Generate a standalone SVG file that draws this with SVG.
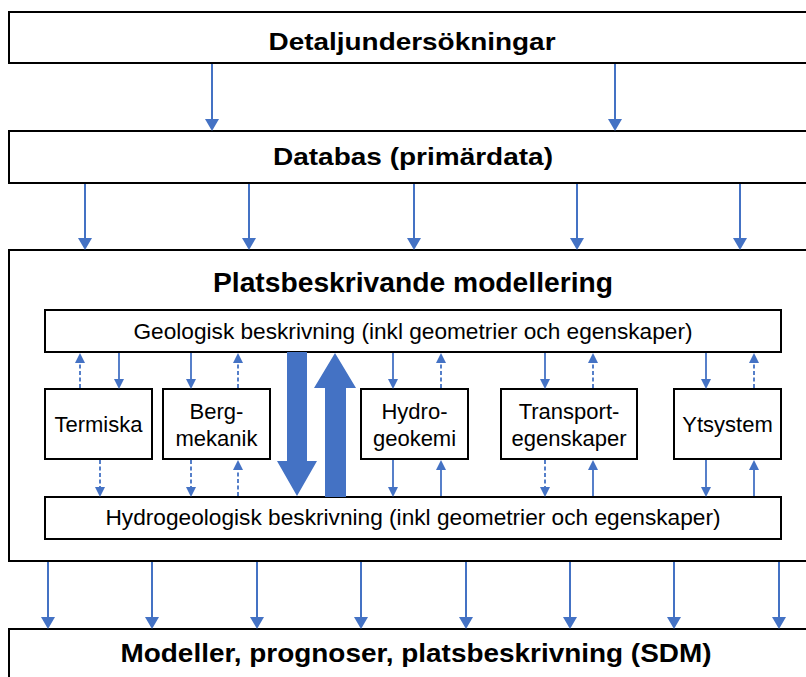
<svg xmlns="http://www.w3.org/2000/svg" width="806" height="677" viewBox="0 0 806 677">
<style>
.box{fill:#fff;stroke:#000;stroke-width:2}
.hd{font-family:"Liberation Sans",Arial,sans-serif;font-weight:bold;fill:#000;text-anchor:middle}
.tx{font-family:"Liberation Sans",Arial,sans-serif;font-size:22px;fill:#000;text-anchor:middle}
.ar{stroke:#4472C4;stroke-width:2;fill:none}
.ai{stroke:#4472C4;stroke-width:1.8;fill:none}
.ds{stroke-dasharray:4 2.5}
.big{fill:#4472C4}
</style>
<defs>
<marker id="mo" viewBox="0 0 12 14" refX="6" refY="7" markerWidth="12" markerHeight="14" markerUnits="userSpaceOnUse" orient="auto"><path d="M0,0 L12,7 L0,14 z" fill="#4472C4"/></marker>
<marker id="mi" viewBox="0 0 10 10" refX="5" refY="5" markerWidth="10" markerHeight="10" markerUnits="userSpaceOnUse" orient="auto"><path d="M0,0 L10,5 L0,10 z" fill="#4472C4"/></marker>
</defs>
<rect width="806" height="677" fill="#fff"/>

<g id="detaljundersokningar">
<rect class="box" x="9" y="12" width="810" height="51"/>
<text class="hd" x="412" y="50" font-size="24" textLength="287" lengthAdjust="spacingAndGlyphs">Detaljundersökningar</text>
</g>
<g id="databas">
<rect class="box" x="9" y="131" width="810" height="52"/>
<text class="hd" x="413" y="165" font-size="24" textLength="280" lengthAdjust="spacingAndGlyphs">Databas (primärdata)</text>
</g>
<g id="platsbeskrivande">
<rect class="box" x="9" y="250" width="810" height="311"/>
<text class="hd" x="413" y="292" font-size="27" textLength="400" lengthAdjust="spacingAndGlyphs">Platsbeskrivande modellering</text>
</g>
<g id="geologisk">
<rect class="box" x="45" y="310" width="736" height="42"/>
<text class="tx" x="413" y="339" textLength="559" lengthAdjust="spacingAndGlyphs">Geologisk beskrivning (inkl geometrier och egenskaper)</text>
</g>
<g id="termiska">
<rect class="box" x="45" y="389" width="107" height="70"/>
<text class="tx" x="98.5" y="432">Termiska</text>
</g>
<g id="bergmekanik">
<rect class="box" x="163" y="389" width="107" height="70"/>
<text class="tx" x="216.5" y="419">Berg-</text>
<text class="tx" x="216.5" y="446">mekanik</text>
</g>
<g id="hydrogeokemi">
<rect class="box" x="361" y="389" width="107" height="70"/>
<text class="tx" x="414.5" y="419">Hydro-</text>
<text class="tx" x="414.5" y="446">geokemi</text>
</g>
<g id="transportegenskaper">
<rect class="box" x="501" y="389" width="136" height="70"/>
<text class="tx" x="569" y="419">Transport-</text>
<text class="tx" x="569" y="446">egenskaper</text>
</g>
<g id="ytsystem">
<rect class="box" x="674" y="389" width="107" height="70"/>
<text class="tx" x="727.5" y="432">Ytsystem</text>
</g>
<g id="hydrogeologisk">
<rect class="box" x="45" y="497" width="736" height="42"/>
<text class="tx" x="413" y="525" textLength="615" lengthAdjust="spacingAndGlyphs">Hydrogeologisk beskrivning (inkl geometrier och egenskaper)</text>
</g>
<g id="modeller">
<rect class="box" x="9" y="629" width="810" height="60"/>
<text class="hd" x="416" y="662" font-size="26.5" textLength="591" lengthAdjust="spacingAndGlyphs">Modeller, prognoser, platsbeskrivning (SDM)</text>
</g>

<g id="connectors">
<g class="ar" marker-end="url(#mo)">
<line x1="212" y1="64" x2="212" y2="125"/>
<line x1="615" y1="64" x2="615" y2="125"/>
<line x1="85" y1="184" x2="85" y2="244"/>
<line x1="249" y1="184" x2="249" y2="244"/>
<line x1="414" y1="184" x2="414" y2="244"/>
<line x1="577" y1="184" x2="577" y2="244"/>
<line x1="740" y1="184" x2="740" y2="244"/>
<line x1="48" y1="562" x2="48" y2="623"/>
<line x1="152" y1="562" x2="152" y2="623"/>
<line x1="257" y1="562" x2="257" y2="623"/>
<line x1="361" y1="562" x2="361" y2="623"/>
<line x1="466" y1="562" x2="466" y2="623"/>
<line x1="570" y1="562" x2="570" y2="623"/>
<line x1="674" y1="562" x2="674" y2="623"/>
<line x1="779" y1="562" x2="779" y2="623"/>
</g>
<g class="ai" marker-end="url(#mi)">
<line x1="119" y1="353" x2="119" y2="384"/>
<line x1="191" y1="353" x2="191" y2="384"/>
<line x1="393" y1="353" x2="393" y2="384"/>
<line x1="545" y1="353" x2="545" y2="384"/>
<line x1="706" y1="353" x2="706" y2="384"/>
<line class="ds" x1="80" y1="388" x2="80" y2="358"/>
<line class="ds" x1="238" y1="388" x2="238" y2="358"/>
<line class="ds" x1="441" y1="388" x2="441" y2="358"/>
<line class="ds" x1="593" y1="388" x2="593" y2="358"/>
<line class="ds" x1="754" y1="388" x2="754" y2="358"/>
<line class="ds" x1="100" y1="460" x2="100" y2="492"/>
<line class="ds" x1="191" y1="460" x2="191" y2="492"/>
<line class="ds" x1="238" y1="496" x2="238" y2="465"/>
<line x1="393" y1="460" x2="393" y2="492"/>
<line x1="441" y1="496" x2="441" y2="465"/>
<line class="ds" x1="545" y1="460" x2="545" y2="492"/>
<line x1="593" y1="496" x2="593" y2="465"/>
<line x1="706" y1="460" x2="706" y2="492"/>
<line x1="754" y1="496" x2="754" y2="465"/>
</g>
<g id="big-arrows">
<polygon class="big" points="287,352 307,352 307,461 317,461 297,496 277,461 287,461"/>
<polygon class="big" points="335,353 356,388 346,388 346,497 325,497 325,388 314,388"/>
</g>
</g>
</svg>
